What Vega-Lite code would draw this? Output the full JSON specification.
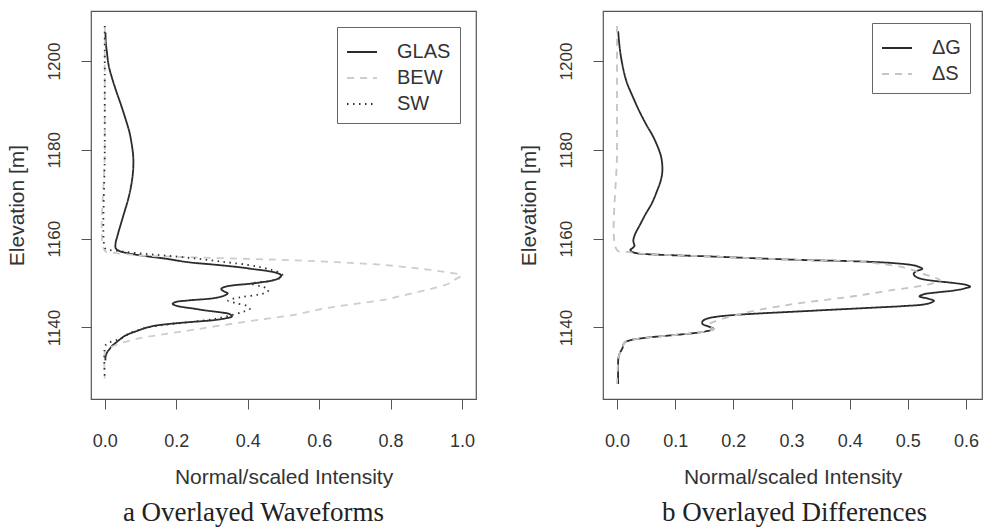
{
  "$schema": "https://vega.github.io/schema/vega-lite/v6.json",
  "background": "white",
  "padding": {"left": 5, "top": 10, "right": 4, "bottom": 0},
  "config": {
    "font": "Liberation Sans",
    "view": {"stroke": "#555555", "strokeWidth": 1.2},
    "axis": {
      "grid": false,
      "domain": false,
      "tickColor": "#555555",
      "tickSize": 10,
      "tickWidth": 1,
      "labelFont": "Liberation Sans",
      "labelFontSize": 18,
      "labelColor": "#333333",
      "titleFont": "Liberation Sans",
      "titleFontSize": 21,
      "titleFontWeight": "normal",
      "titleColor": "#333333"
    },
    "axisX": {"labelPadding": 23, "titlePadding": 16, "labelFlush": false},
    "axisY": {"labelAngle": -90, "labelAlign": "center", "labelBaseline": "bottom", "labelPadding": 18, "titlePadding": 18, "labelFontSize": 17},
    "legend": {
      "title": null,
      "orient": "top-right",
      "symbolType": "stroke",
      "symbolSize": 900,
      "symbolStrokeWidth": 2,
      "labelFont": "Liberation Sans",
      "labelFontSize": 20,
      "labelColor": "#333333",
      "labelOffset": 19,
      "strokeColor": "#666666",
      "fillColor": "white",
      "padding": 9,
      "rowPadding": 0
    },
    "title": {
      "font": "Liberation Serif",
      "fontSize": 27,
      "fontWeight": "normal",
      "color": "#222222",
      "anchor": "middle",
      "orient": "bottom"
    }
  },
  "datasets": {
    "waves": [
      {"series": "GLAS", "elevation": 1206.4, "intensity": 0.002},
      {"series": "GLAS", "elevation": 1204, "intensity": 0.003},
      {"series": "GLAS", "elevation": 1202, "intensity": 0.006},
      {"series": "GLAS", "elevation": 1199, "intensity": 0.011},
      {"series": "GLAS", "elevation": 1196, "intensity": 0.021},
      {"series": "GLAS", "elevation": 1193, "intensity": 0.033},
      {"series": "GLAS", "elevation": 1190, "intensity": 0.046},
      {"series": "GLAS", "elevation": 1187, "intensity": 0.058},
      {"series": "GLAS", "elevation": 1184, "intensity": 0.069},
      {"series": "GLAS", "elevation": 1181, "intensity": 0.076},
      {"series": "GLAS", "elevation": 1178, "intensity": 0.08},
      {"series": "GLAS", "elevation": 1175, "intensity": 0.079},
      {"series": "GLAS", "elevation": 1172, "intensity": 0.074},
      {"series": "GLAS", "elevation": 1169, "intensity": 0.066},
      {"series": "GLAS", "elevation": 1166, "intensity": 0.055},
      {"series": "GLAS", "elevation": 1163, "intensity": 0.044},
      {"series": "GLAS", "elevation": 1160.5, "intensity": 0.035},
      {"series": "GLAS", "elevation": 1158.8, "intensity": 0.03},
      {"series": "GLAS", "elevation": 1157.8, "intensity": 0.031},
      {"series": "GLAS", "elevation": 1157.2, "intensity": 0.042},
      {"series": "GLAS", "elevation": 1156.8, "intensity": 0.06},
      {"series": "GLAS", "elevation": 1156.2, "intensity": 0.103},
      {"series": "GLAS", "elevation": 1155.5, "intensity": 0.17},
      {"series": "GLAS", "elevation": 1154.7, "intensity": 0.233},
      {"series": "GLAS", "elevation": 1154.2, "intensity": 0.3},
      {"series": "GLAS", "elevation": 1153.6, "intensity": 0.373},
      {"series": "GLAS", "elevation": 1153.1, "intensity": 0.42},
      {"series": "GLAS", "elevation": 1152.7, "intensity": 0.457},
      {"series": "GLAS", "elevation": 1152.2, "intensity": 0.485},
      {"series": "GLAS", "elevation": 1151.7, "intensity": 0.494},
      {"series": "GLAS", "elevation": 1151.1, "intensity": 0.487},
      {"series": "GLAS", "elevation": 1150.6, "intensity": 0.47},
      {"series": "GLAS", "elevation": 1150.2, "intensity": 0.44},
      {"series": "GLAS", "elevation": 1149.8, "intensity": 0.4},
      {"series": "GLAS", "elevation": 1149.5, "intensity": 0.36},
      {"series": "GLAS", "elevation": 1149.1, "intensity": 0.334},
      {"series": "GLAS", "elevation": 1148.7, "intensity": 0.326},
      {"series": "GLAS", "elevation": 1148.2, "intensity": 0.332},
      {"series": "GLAS", "elevation": 1147.7, "intensity": 0.344},
      {"series": "GLAS", "elevation": 1147.2, "intensity": 0.335},
      {"series": "GLAS", "elevation": 1146.6, "intensity": 0.305},
      {"series": "GLAS", "elevation": 1146.1, "intensity": 0.235},
      {"series": "GLAS", "elevation": 1145.7, "intensity": 0.197},
      {"series": "GLAS", "elevation": 1145.3, "intensity": 0.19},
      {"series": "GLAS", "elevation": 1144.8, "intensity": 0.205},
      {"series": "GLAS", "elevation": 1144.3, "intensity": 0.245},
      {"series": "GLAS", "elevation": 1143.8, "intensity": 0.285},
      {"series": "GLAS", "elevation": 1143.4, "intensity": 0.325},
      {"series": "GLAS", "elevation": 1143.0, "intensity": 0.35},
      {"series": "GLAS", "elevation": 1142.5, "intensity": 0.356},
      {"series": "GLAS", "elevation": 1142.1, "intensity": 0.34},
      {"series": "GLAS", "elevation": 1141.7, "intensity": 0.31},
      {"series": "GLAS", "elevation": 1141.2, "intensity": 0.235},
      {"series": "GLAS", "elevation": 1140.8, "intensity": 0.18},
      {"series": "GLAS", "elevation": 1140.4, "intensity": 0.14},
      {"series": "GLAS", "elevation": 1139.8, "intensity": 0.11},
      {"series": "GLAS", "elevation": 1139.3, "intensity": 0.093},
      {"series": "GLAS", "elevation": 1138.2, "intensity": 0.058},
      {"series": "GLAS", "elevation": 1137.3, "intensity": 0.042},
      {"series": "GLAS", "elevation": 1136.7, "intensity": 0.033},
      {"series": "GLAS", "elevation": 1135.9, "intensity": 0.021},
      {"series": "GLAS", "elevation": 1135.2, "intensity": 0.014},
      {"series": "GLAS", "elevation": 1134.6, "intensity": 0.008},
      {"series": "GLAS", "elevation": 1134.1, "intensity": 0.005},
      {"series": "GLAS", "elevation": 1133.3, "intensity": 0.002},
      {"series": "GLAS", "elevation": 1132.6, "intensity": 0.002},

      {"series": "BEW", "elevation": 1207.9, "intensity": 0},
      {"series": "BEW", "elevation": 1180, "intensity": 0},
      {"series": "BEW", "elevation": 1157.3, "intensity": 0},
      {"series": "BEW", "elevation": 1156.9, "intensity": 0.02},
      {"series": "BEW", "elevation": 1156.5, "intensity": 0.06},
      {"series": "BEW", "elevation": 1156.2, "intensity": 0.1},
      {"series": "BEW", "elevation": 1155.8, "intensity": 0.25},
      {"series": "BEW", "elevation": 1155.4, "intensity": 0.42},
      {"series": "BEW", "elevation": 1155.1, "intensity": 0.54},
      {"series": "BEW", "elevation": 1154.7, "intensity": 0.65},
      {"series": "BEW", "elevation": 1154.3, "intensity": 0.74},
      {"series": "BEW", "elevation": 1153.8, "intensity": 0.82},
      {"series": "BEW", "elevation": 1153.2, "intensity": 0.886},
      {"series": "BEW", "elevation": 1152.5, "intensity": 0.95},
      {"series": "BEW", "elevation": 1151.7, "intensity": 0.998},
      {"series": "BEW", "elevation": 1150.8, "intensity": 0.98},
      {"series": "BEW", "elevation": 1149.8, "intensity": 0.96},
      {"series": "BEW", "elevation": 1148.7, "intensity": 0.913},
      {"series": "BEW", "elevation": 1147.5, "intensity": 0.85},
      {"series": "BEW", "elevation": 1146.3, "intensity": 0.785},
      {"series": "BEW", "elevation": 1145.2, "intensity": 0.69},
      {"series": "BEW", "elevation": 1144.2, "intensity": 0.61},
      {"series": "BEW", "elevation": 1142.9, "intensity": 0.535},
      {"series": "BEW", "elevation": 1141.6, "intensity": 0.42},
      {"series": "BEW", "elevation": 1140.4, "intensity": 0.32},
      {"series": "BEW", "elevation": 1139.3, "intensity": 0.233},
      {"series": "BEW", "elevation": 1138.3, "intensity": 0.15},
      {"series": "BEW", "elevation": 1137.5, "intensity": 0.093},
      {"series": "BEW", "elevation": 1136.6, "intensity": 0.05},
      {"series": "BEW", "elevation": 1136.0, "intensity": 0.03},
      {"series": "BEW", "elevation": 1135.4, "intensity": 0.013},
      {"series": "BEW", "elevation": 1135.0, "intensity": 0.004},
      {"series": "BEW", "elevation": 1134.5, "intensity": 0},
      {"series": "BEW", "elevation": 1128.5, "intensity": 0},

      {"series": "SW", "elevation": 1207.9, "intensity": 0},
      {"series": "SW", "elevation": 1180, "intensity": 0},
      {"series": "SW", "elevation": 1158.0, "intensity": 0},
      {"series": "SW", "elevation": 1157.6, "intensity": 0.005},
      {"series": "SW", "elevation": 1157.2, "intensity": 0.04},
      {"series": "SW", "elevation": 1156.9, "intensity": 0.07},
      {"series": "SW", "elevation": 1156.4, "intensity": 0.14},
      {"series": "SW", "elevation": 1155.9, "intensity": 0.21},
      {"series": "SW", "elevation": 1155.3, "intensity": 0.28},
      {"series": "SW", "elevation": 1154.7, "intensity": 0.34},
      {"series": "SW", "elevation": 1154.1, "intensity": 0.4},
      {"series": "SW", "elevation": 1153.5, "intensity": 0.44},
      {"series": "SW", "elevation": 1152.9, "intensity": 0.47},
      {"series": "SW", "elevation": 1152.3, "intensity": 0.49},
      {"series": "SW", "elevation": 1151.7, "intensity": 0.498},
      {"series": "SW", "elevation": 1151.1, "intensity": 0.49},
      {"series": "SW", "elevation": 1150.5, "intensity": 0.465},
      {"series": "SW", "elevation": 1149.9, "intensity": 0.41},
      {"series": "SW", "elevation": 1149.3, "intensity": 0.435},
      {"series": "SW", "elevation": 1148.6, "intensity": 0.458},
      {"series": "SW", "elevation": 1148.0, "intensity": 0.455},
      {"series": "SW", "elevation": 1147.4, "intensity": 0.43},
      {"series": "SW", "elevation": 1146.8, "intensity": 0.38},
      {"series": "SW", "elevation": 1146.1, "intensity": 0.345},
      {"series": "SW", "elevation": 1145.5, "intensity": 0.365},
      {"series": "SW", "elevation": 1144.8, "intensity": 0.4},
      {"series": "SW", "elevation": 1144.2, "intensity": 0.406},
      {"series": "SW", "elevation": 1143.6, "intensity": 0.39},
      {"series": "SW", "elevation": 1143.0, "intensity": 0.365},
      {"series": "SW", "elevation": 1142.4, "intensity": 0.335},
      {"series": "SW", "elevation": 1141.8, "intensity": 0.3},
      {"series": "SW", "elevation": 1141.2, "intensity": 0.235},
      {"series": "SW", "elevation": 1140.6, "intensity": 0.17},
      {"series": "SW", "elevation": 1140.0, "intensity": 0.12},
      {"series": "SW", "elevation": 1139.2, "intensity": 0.085},
      {"series": "SW", "elevation": 1138.4, "intensity": 0.063},
      {"series": "SW", "elevation": 1137.6, "intensity": 0.048},
      {"series": "SW", "elevation": 1137.1, "intensity": 0.03},
      {"series": "SW", "elevation": 1136.6, "intensity": 0.012},
      {"series": "SW", "elevation": 1136.1, "intensity": 0.003},
      {"series": "SW", "elevation": 1135.6, "intensity": 0},
      {"series": "SW", "elevation": 1128.5, "intensity": 0}
    ],
    "diffs": [
      {"series": "ΔG", "elevation": 1206.7, "intensity": 0.002},
      {"series": "ΔG", "elevation": 1203.7, "intensity": 0.004},
      {"series": "ΔG", "elevation": 1200, "intensity": 0.008},
      {"series": "ΔG", "elevation": 1195.5, "intensity": 0.016},
      {"series": "ΔG", "elevation": 1192, "intensity": 0.027},
      {"series": "ΔG", "elevation": 1188.8, "intensity": 0.038},
      {"series": "ΔG", "elevation": 1185.5, "intensity": 0.051},
      {"series": "ΔG", "elevation": 1183.5, "intensity": 0.06},
      {"series": "ΔG", "elevation": 1181, "intensity": 0.069},
      {"series": "ΔG", "elevation": 1178.3, "intensity": 0.076},
      {"series": "ΔG", "elevation": 1175.3, "intensity": 0.078},
      {"series": "ΔG", "elevation": 1173, "intensity": 0.075},
      {"series": "ΔG", "elevation": 1170.8, "intensity": 0.069},
      {"series": "ΔG", "elevation": 1168, "intensity": 0.06},
      {"series": "ΔG", "elevation": 1165.5, "intensity": 0.049},
      {"series": "ΔG", "elevation": 1163, "intensity": 0.039},
      {"series": "ΔG", "elevation": 1161, "intensity": 0.031},
      {"series": "ΔG", "elevation": 1159.6, "intensity": 0.028},
      {"series": "ΔG", "elevation": 1158.9, "intensity": 0.029},
      {"series": "ΔG", "elevation": 1158.4, "intensity": 0.03},
      {"series": "ΔG", "elevation": 1157.9, "intensity": 0.027},
      {"series": "ΔG", "elevation": 1157.5, "intensity": 0.023},
      {"series": "ΔG", "elevation": 1157.1, "intensity": 0.025},
      {"series": "ΔG", "elevation": 1156.7, "intensity": 0.035},
      {"series": "ΔG", "elevation": 1156.4, "intensity": 0.07},
      {"series": "ΔG", "elevation": 1156.0, "intensity": 0.16},
      {"series": "ΔG", "elevation": 1155.6, "intensity": 0.235},
      {"series": "ΔG", "elevation": 1155.2, "intensity": 0.32},
      {"series": "ΔG", "elevation": 1154.9, "intensity": 0.41},
      {"series": "ΔG", "elevation": 1154.5, "intensity": 0.475},
      {"series": "ΔG", "elevation": 1154.0, "intensity": 0.51},
      {"series": "ΔG", "elevation": 1153.6, "intensity": 0.52},
      {"series": "ΔG", "elevation": 1153.2, "intensity": 0.525},
      {"series": "ΔG", "elevation": 1152.7, "intensity": 0.515},
      {"series": "ΔG", "elevation": 1152.1, "intensity": 0.51},
      {"series": "ΔG", "elevation": 1151.5, "intensity": 0.513},
      {"series": "ΔG", "elevation": 1150.9, "intensity": 0.525},
      {"series": "ΔG", "elevation": 1150.5, "intensity": 0.545},
      {"series": "ΔG", "elevation": 1150.0, "intensity": 0.58},
      {"series": "ΔG", "elevation": 1149.6, "intensity": 0.6},
      {"series": "ΔG", "elevation": 1149.2, "intensity": 0.607},
      {"series": "ΔG", "elevation": 1148.8, "intensity": 0.598},
      {"series": "ΔG", "elevation": 1148.3, "intensity": 0.578},
      {"series": "ΔG", "elevation": 1147.9, "intensity": 0.55},
      {"series": "ΔG", "elevation": 1147.5, "intensity": 0.528},
      {"series": "ΔG", "elevation": 1147.0, "intensity": 0.52},
      {"series": "ΔG", "elevation": 1146.5, "intensity": 0.535},
      {"series": "ΔG", "elevation": 1146.0, "intensity": 0.545},
      {"series": "ΔG", "elevation": 1145.6, "intensity": 0.54},
      {"series": "ΔG", "elevation": 1145.2, "intensity": 0.528},
      {"series": "ΔG", "elevation": 1144.8, "intensity": 0.49},
      {"series": "ΔG", "elevation": 1144.4, "intensity": 0.43},
      {"series": "ΔG", "elevation": 1144.0, "intensity": 0.37},
      {"series": "ΔG", "elevation": 1143.6, "intensity": 0.31},
      {"series": "ΔG", "elevation": 1143.2, "intensity": 0.25},
      {"series": "ΔG", "elevation": 1142.8, "intensity": 0.2},
      {"series": "ΔG", "elevation": 1142.4, "intensity": 0.17},
      {"series": "ΔG", "elevation": 1142.0, "intensity": 0.155},
      {"series": "ΔG", "elevation": 1141.4, "intensity": 0.147},
      {"series": "ΔG", "elevation": 1140.8, "intensity": 0.147},
      {"series": "ΔG", "elevation": 1140.2, "intensity": 0.158},
      {"series": "ΔG", "elevation": 1139.7, "intensity": 0.166},
      {"series": "ΔG", "elevation": 1139.2, "intensity": 0.155},
      {"series": "ΔG", "elevation": 1138.7, "intensity": 0.13},
      {"series": "ΔG", "elevation": 1138.2, "intensity": 0.09},
      {"series": "ΔG", "elevation": 1137.7, "intensity": 0.05},
      {"series": "ΔG", "elevation": 1137.2, "intensity": 0.025},
      {"series": "ΔG", "elevation": 1136.7, "intensity": 0.014},
      {"series": "ΔG", "elevation": 1136.2, "intensity": 0.011},
      {"series": "ΔG", "elevation": 1135.6, "intensity": 0.01},
      {"series": "ΔG", "elevation": 1135.0, "intensity": 0.008},
      {"series": "ΔG", "elevation": 1134.3, "intensity": 0.005},
      {"series": "ΔG", "elevation": 1133.5, "intensity": 0.003},
      {"series": "ΔG", "elevation": 1132.6, "intensity": 0.002},
      {"series": "ΔG", "elevation": 1127.3, "intensity": 0.002},

      {"series": "ΔS", "elevation": 1207.9, "intensity": 0},
      {"series": "ΔS", "elevation": 1180, "intensity": 0},
      {"series": "ΔS", "elevation": 1157.4, "intensity": 0},
      {"series": "ΔS", "elevation": 1157.1, "intensity": 0.015},
      {"series": "ΔS", "elevation": 1156.7, "intensity": 0.035},
      {"series": "ΔS", "elevation": 1156.4, "intensity": 0.07},
      {"series": "ΔS", "elevation": 1156.0, "intensity": 0.16},
      {"series": "ΔS", "elevation": 1155.6, "intensity": 0.235},
      {"series": "ΔS", "elevation": 1155.2, "intensity": 0.32},
      {"series": "ΔS", "elevation": 1154.9, "intensity": 0.41},
      {"series": "ΔS", "elevation": 1154.3, "intensity": 0.455},
      {"series": "ΔS", "elevation": 1153.6, "intensity": 0.49},
      {"series": "ΔS", "elevation": 1152.9, "intensity": 0.51},
      {"series": "ΔS", "elevation": 1152.1, "intensity": 0.525},
      {"series": "ΔS", "elevation": 1151.3, "intensity": 0.545},
      {"series": "ΔS", "elevation": 1150.6, "intensity": 0.556},
      {"series": "ΔS", "elevation": 1150.2, "intensity": 0.55},
      {"series": "ΔS", "elevation": 1149.4, "intensity": 0.525},
      {"series": "ΔS", "elevation": 1148.3, "intensity": 0.467},
      {"series": "ΔS", "elevation": 1147.2, "intensity": 0.415},
      {"series": "ΔS", "elevation": 1146.4, "intensity": 0.37},
      {"series": "ΔS", "elevation": 1145.6, "intensity": 0.32},
      {"series": "ΔS", "elevation": 1144.8, "intensity": 0.28},
      {"series": "ΔS", "elevation": 1144.0, "intensity": 0.245},
      {"series": "ΔS", "elevation": 1143.3, "intensity": 0.22},
      {"series": "ΔS", "elevation": 1142.6, "intensity": 0.2},
      {"series": "ΔS", "elevation": 1141.9, "intensity": 0.18},
      {"series": "ΔS", "elevation": 1141.2, "intensity": 0.165},
      {"series": "ΔS", "elevation": 1140.6, "intensity": 0.157},
      {"series": "ΔS", "elevation": 1140.2, "intensity": 0.158},
      {"series": "ΔS", "elevation": 1139.7, "intensity": 0.166},
      {"series": "ΔS", "elevation": 1139.2, "intensity": 0.155},
      {"series": "ΔS", "elevation": 1138.7, "intensity": 0.13},
      {"series": "ΔS", "elevation": 1138.2, "intensity": 0.09},
      {"series": "ΔS", "elevation": 1137.7, "intensity": 0.05},
      {"series": "ΔS", "elevation": 1137.2, "intensity": 0.025},
      {"series": "ΔS", "elevation": 1136.7, "intensity": 0.014},
      {"series": "ΔS", "elevation": 1136.2, "intensity": 0.011},
      {"series": "ΔS", "elevation": 1135.6, "intensity": 0.01},
      {"series": "ΔS", "elevation": 1135.0, "intensity": 0.008},
      {"series": "ΔS", "elevation": 1134.3, "intensity": 0.005},
      {"series": "ΔS", "elevation": 1133.5, "intensity": 0.003},
      {"series": "ΔS", "elevation": 1132.6, "intensity": 0.002},
      {"series": "ΔS", "elevation": 1127.3, "intensity": 0}
    ]
  },
  "spacing": 40,
  "hconcat": [
    {
      "width": 385,
      "height": 388,
      "title": {"text": "a Overlayed Waveforms", "dx": -30, "offset": 13},
      "data": {"name": "waves"},
      "mark": {"type": "line", "interpolate": "catmull-rom", "clip": true, "strokeWidth": 1.8},
      "encoding": {
        "x": {
          "field": "intensity", "type": "quantitative",
          "scale": {"domain": [-0.0385, 1.039], "nice": false, "zero": false},
          "axis": {"values": [0, 0.2, 0.4, 0.6, 0.8, 1.0], "format": ".1f", "title": "Normal/scaled Intensity"}
        },
        "y": {
          "field": "elevation", "type": "quantitative",
          "scale": {"domain": [1123.9, 1211.26], "nice": false, "zero": false},
          "axis": {"values": [1140, 1160, 1180, 1200], "format": "d", "title": "Elevation [m]"}
        },
        "order": {"field": "elevation", "type": "quantitative", "sort": "descending"},
        "color": {
          "field": "series", "type": "nominal",
          "scale": {"domain": ["GLAS", "BEW", "SW"], "range": ["#2b2b2b", "#cdcdcd", "#333333"]},
          "legend": {"offset": 16}
        },
        "strokeDash": {
          "field": "series", "type": "nominal",
          "scale": {"domain": ["GLAS", "BEW", "SW"], "range": [[1, 0], [7, 6], [1.5, 4.5]]},
          "legend": {"offset": 16}
        }
      }
    },
    {
      "width": 379,
      "height": 388,
      "title": {"text": "b Overlayed Differences", "dx": 2, "offset": 13},
      "data": {"name": "diffs"},
      "mark": {"type": "line", "interpolate": "catmull-rom", "clip": true, "strokeWidth": 1.8},
      "encoding": {
        "x": {
          "field": "intensity", "type": "quantitative",
          "scale": {"domain": [-0.0241, 0.6275], "nice": false, "zero": false},
          "axis": {"values": [0, 0.1, 0.2, 0.3, 0.4, 0.5, 0.6], "format": ".1f", "title": "Normal/scaled Intensity"}
        },
        "y": {
          "field": "elevation", "type": "quantitative",
          "scale": {"domain": [1123.9, 1211.26], "nice": false, "zero": false},
          "axis": {"values": [1140, 1160, 1180, 1200], "format": "d", "title": "Elevation [m]"}
        },
        "order": {"field": "elevation", "type": "quantitative", "sort": "descending"},
        "color": {
          "field": "series", "type": "nominal",
          "scale": {"domain": ["ΔG", "ΔS"], "range": ["#2b2b2b", "#c4c4c8"]},
          "legend": {"offset": 12}
        },
        "strokeDash": {
          "field": "series", "type": "nominal",
          "scale": {"domain": ["ΔG", "ΔS"], "range": [[1, 0], [7, 6]]},
          "legend": {"offset": 12}
        }
      }
    }
  ],
  "resolve": {"scale": {"color": "independent", "strokeDash": "independent"}}
}
